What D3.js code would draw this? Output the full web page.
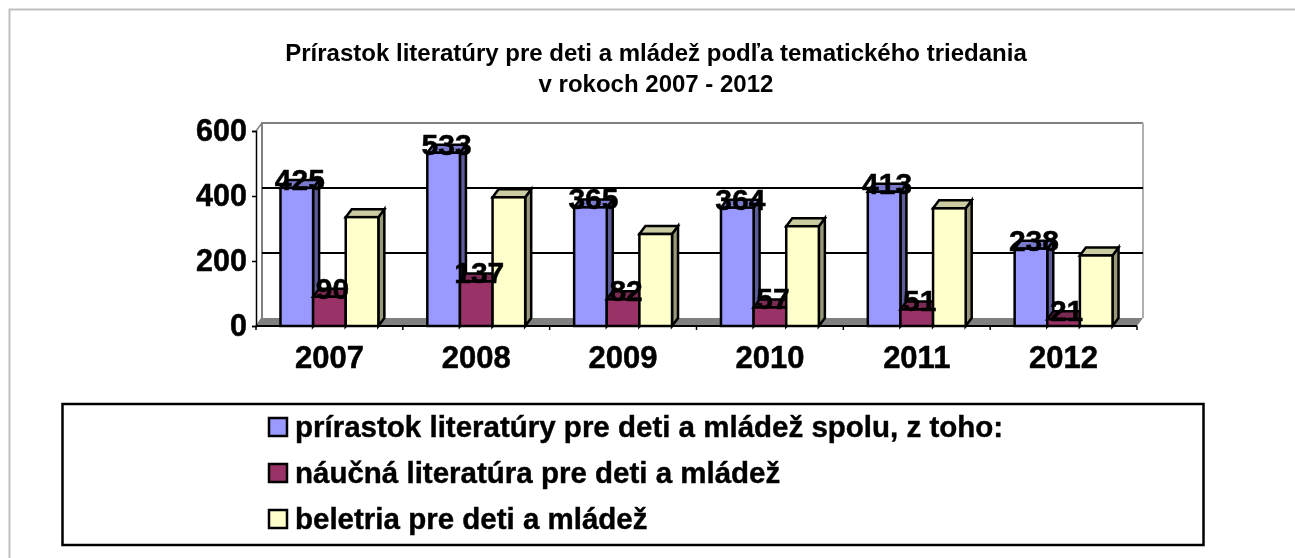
<!DOCTYPE html>
<html>
<head>
<meta charset="utf-8">
<script src="https://cdn.jsdelivr.net/npm/d3@7"></script>
<style>
html, body { margin: 0; padding: 0; background: #fff; }
svg { display: block; font-family: "Liberation Sans", Arial, sans-serif; font-weight: bold; }
</style>
</head>
<body>
<svg id="chart"></svg>
<script>
var years = ["2007", "2008", "2009", "2010", "2011", "2012"];
var seriesNames = [
	"prírastok literatúry pre deti a mládež spolu, z toho:",
	"náučná literatúra pre deti a mládež",
	"beletria pre deti a mládež"
];
var totalValues = [425, 533, 365, 364, 413, 238];
var scienceValues = [90, 137, 82, 57, 51, 21];
var fictionValues = [335, 396, 283, 307, 362, 217];
var yTicks = [0, 200, 400, 600];
var titleLines = [
	"Prírastok literatúry pre deti a mládež podľa tematického triedania",
	"v rokoch 2007 - 2012"
];

var allValues = [totalValues, scienceValues, fictionValues];
var showLabel = [true, true, false];
var frontColors = ["#9999ff", "#993366", "#ffffcc"];
var topColors = ["#7a7acc", "#7a2952", "#cccca3"];
var sideColors = ["#5c5c99", "#5c1f3d", "#999979"];

var width = 1295, height = 558;
var depthX = 6, depthY = 8;
var barStroke = 2.5;

var svg = d3.select("#chart").attr("width", width).attr("height", height);

// the source picture is a little soft
svg.append("defs").append("filter")
	.attr("id", "soft")
	.append("feGaussianBlur")
	.attr("stdDeviation", 0.45);

var root = svg.append("g").attr("filter", "url(#soft)");

// outer frame, open at right and bottom
root.append("path")
	.attr("d", "M9.5,558V9.5H1295")
	.attr("fill", "none")
	.attr("stroke", "#bfbfbf")
	.attr("stroke-width", 2);

root.selectAll(".title")
	.data(titleLines)
	.enter().append("text")
	.attr("class", "title")
	.attr("x", 656)
	.attr("y", function(d, i) { return 61 + i * 31; })
	.attr("text-anchor", "middle")
	.attr("font-size", "24px")
	.text(function(d) { return d; });

var x0 = d3.scaleBand().domain(years).range([256, 1137]).paddingInner(1 / 3).paddingOuter(1 / 6);
var x1 = d3.scaleBand().domain([0, 1, 2]).range([0, x0.bandwidth()]);
var y = d3.scaleLinear().domain([0, 600]).range([326, 131]);

var xL = x0.range()[0], xR = x0.range()[1];
var y0 = y(0), yTop = y(600);

// floor, side wall and back wall
root.append("path")
	.attr("d", "M" + xL + "," + y0 + "L" + (xL + depthX) + "," + (y0 - depthY) + "H" + (xR + depthX) + "L" + xR + "," + y0 + "Z")
	.attr("fill", "#808080");
root.append("rect")
	.attr("x", xL + depthX).attr("y", yTop - depthY)
	.attr("width", xR - xL).attr("height", y0 - yTop)
	.attr("fill", "#fff");
root.append("path")
	.attr("d", "M" + (xL + depthX) + "," + (y0 - depthY) + "V" + (yTop - depthY) + "H" + (xR + depthX))
	.attr("fill", "none").attr("stroke", "#808080").attr("stroke-width", 2);
root.append("path")
	.attr("d", "M" + (xR + depthX) + "," + (yTop - depthY) + "V" + (y0 - depthY))
	.attr("fill", "none").attr("stroke", "#b0b0b0").attr("stroke-width", 2);
root.append("path")
	.attr("d", "M" + xL + "," + yTop + "L" + (xL + depthX) + "," + (yTop - depthY) + "M" + xL + "," + y0 + "L" + (xL + depthX) + "," + (y0 - depthY))
	.attr("fill", "none").attr("stroke", "#808080").attr("stroke-width", 1.5);

// gridlines on back wall
root.selectAll(".grid")
	.data([200, 400])
	.enter().append("line")
	.attr("class", "grid")
	.attr("x1", xL + depthX).attr("x2", xR + depthX)
	.attr("y1", function(d) { return y(d) - depthY; })
	.attr("y2", function(d) { return y(d) - depthY; })
	.attr("stroke", "#000").attr("stroke-width", 2);

// y axis
var yAxis = root.append("g")
	.attr("transform", "translate(" + xL + ",0)")
	.call(d3.axisLeft(y).tickValues(yTicks).tickSize(4).tickPadding(5));
yAxis.selectAll("text").attr("font-size", "30.5px").attr("font-weight", "bold").attr("font-family", "inherit").attr("fill", "#000")
	.attr("stroke", "#000").attr("stroke-width", 0.5);
yAxis.selectAll("line, path").attr("stroke", "#000").attr("stroke-width", 1.5);

// x axis
var xAxis = root.append("g")
	.attr("transform", "translate(0," + y0 + ")")
	.call(d3.axisBottom(x0).tickSize(0).tickPadding(20));
xAxis.select("path").remove();
xAxis.selectAll("text").attr("font-size", "31px").attr("font-weight", "bold").attr("font-family", "inherit").attr("fill", "#000")
	.attr("stroke", "#000").attr("stroke-width", 0.5);

// bars, one group per year
var groups = root.selectAll(".year")
	.data(years)
	.enter().append("g")
	.attr("class", "year")
	.attr("transform", function(d) { return "translate(" + x0(d) + ",0)"; });

groups.each(function(year, yi) {
	var g = d3.select(this);
	allValues.forEach(function(vals, si) {
		var bx = x1(si), bw = x1.bandwidth(), by = y(vals[yi]);
		g.append("path")
			.attr("d", "M" + (bx + bw) + "," + by + "l" + depthX + "," + (-depthY) + "V" + (y0 - depthY) + "L" + (bx + bw) + "," + y0 + "Z")
			.attr("fill", sideColors[si]).attr("stroke", "#000").attr("stroke-width", barStroke);
		g.append("path")
			.attr("d", "M" + bx + "," + by + "l" + depthX + "," + (-depthY) + "h" + bw + "l" + (-depthX) + "," + depthY + "Z")
			.attr("fill", topColors[si]).attr("stroke", "#000").attr("stroke-width", barStroke);
		g.append("rect")
			.attr("x", bx).attr("y", by).attr("width", bw).attr("height", y0 - by)
			.attr("fill", frontColors[si]).attr("stroke", "#000").attr("stroke-width", barStroke);
	});
});

// axis baseline and category ticks over the bars
root.append("line")
	.attr("x1", xL).attr("x2", xR).attr("y1", y0).attr("y2", y0)
	.attr("stroke", "#000").attr("stroke-width", 2);
root.selectAll(".xtick")
	.data(d3.range(years.length + 1))
	.enter().append("line")
	.attr("class", "xtick")
	.attr("x1", function(d) { return xL + d * x0.step(); })
	.attr("x2", function(d) { return xL + d * x0.step(); })
	.attr("y1", y0).attr("y2", y0 + 4)
	.attr("stroke", "#000").attr("stroke-width", 1.5);

// data labels on top of everything
groups.each(function(year, yi) {
	var g = d3.select(this);
	allValues.forEach(function(vals, si) {
		if (!showLabel[si]) return;
		g.append("text")
			.attr("x", x1(si) + x1.bandwidth() / 2 + 3)
			.attr("y", y(vals[yi]) + 2)
			.attr("text-anchor", "middle")
			.attr("font-size", "30px")
			.attr("stroke", "#000")
			.attr("stroke-width", 0.5)
			.text(vals[yi]);
	});
});

// legend
root.append("rect")
	.attr("x", 62.5).attr("y", 404)
	.attr("width", 1141).attr("height", 141)
	.attr("fill", "#fff").attr("stroke", "#000").attr("stroke-width", 2.5);

var legendRow = d3.scaleBand().domain([0, 1, 2]).range([404, 542]);
var legend = root.selectAll(".legend")
	.data(seriesNames)
	.enter().append("g")
	.attr("class", "legend")
	.attr("transform", function(d, i) { return "translate(0," + (legendRow(i) + legendRow.bandwidth() / 2) + ")"; });
legend.append("rect")
	.attr("x", 269).attr("y", -9).attr("width", 18).attr("height", 18)
	.attr("fill", function(d, i) { return frontColors[i]; })
	.attr("stroke", "#000").attr("stroke-width", 2.5);
legend.append("text")
	.attr("x", 295).attr("y", 9.5)
	.attr("font-size", "29.5px")
	.attr("stroke", "#000")
	.attr("stroke-width", 0.4)
	.text(function(d) { return d; });
</script>
</body>
</html>
